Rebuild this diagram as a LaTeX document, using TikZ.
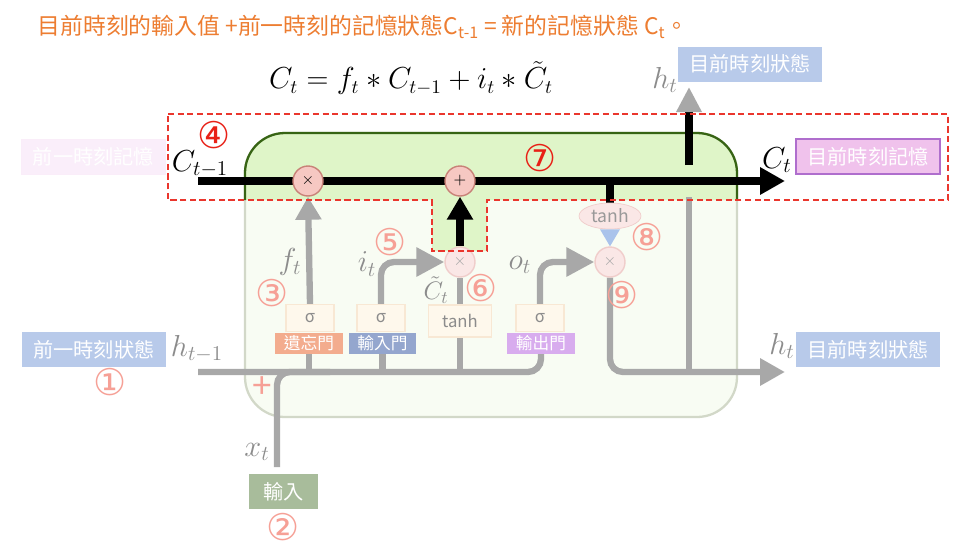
\documentclass[tikz,border=0pt]{standalone}
\usepackage{amsmath}
\usepackage{fontspec}
\newfontfamily\cjk{Noto Sans CJK TC}
\newfontfamily\dingfont{DejaVu Sans}
\usetikzlibrary{arrows.meta,shapes.geometric,positioning}

\definecolor{titleorange}{RGB}{237,125,49}
\definecolor{cellgreen}{RGB}{223,245,200}
\definecolor{celledge}{RGB}{55,100,20}
\definecolor{fadegreen}{RGB}{248,252,243}
\definecolor{fadeedge}{RGB}{210,216,200}
\definecolor{wiregray}{RGB}{168,168,168}
\definecolor{oppink}{RGB}{246,200,194}
\definecolor{opedge}{RGB}{200,130,120}
\definecolor{fadepink}{RGB}{250,231,230}
\definecolor{fadeedgepink}{RGB}{240,205,203}
\definecolor{markred}{RGB}{232,32,22}
\definecolor{fadered}{RGB}{246,160,150}
\definecolor{stateblue}{RGB}{184,202,234}
\definecolor{memviolet}{RGB}{240,194,236}
\definecolor{memedge}{RGB}{175,110,205}
\definecolor{ghostviolet}{RGB}{250,238,250}
\definecolor{inputgreen}{RGB}{168,188,155}
\definecolor{forgetorange}{RGB}{243,172,142}
\definecolor{ingateblue}{RGB}{148,166,206}
\definecolor{outviolet}{RGB}{216,172,238}
\definecolor{gatefill}{RGB}{254,248,236}
\definecolor{gateedge}{RGB}{248,232,212}
\definecolor{tipblue}{RGB}{170,195,235}

\pgfdeclarelayer{cellbg}
\pgfdeclarelayer{wires}
\pgfsetlayers{cellbg,wires,main}

\begin{document}
\begin{tikzpicture}[x=0.02cm,y=-0.02cm,
  box/.style={font=\cjk\fontsize{11.5}{12}\selectfont,text=white,inner sep=0pt,minimum width=2.88cm,minimum height=0.7cm},
  gatelbl/.style={font=\cjk\fontsize{9.5}{10}\selectfont,text=white,inner sep=0pt,minimum width=1.36cm,minimum height=0.42cm},
  gatebox/.style={draw=gateedge,fill=gatefill,line width=0.8pt,text=black!45,font=\cjk\fontsize{9.5}{10}\selectfont,inner sep=0pt,minimum width=0.96cm,minimum height=0.54cm},
  op/.style={circle,draw=opedge,fill=oppink,line width=0.8pt,minimum size=0.6cm,inner sep=0pt,font=\small},
  fadeop/.style={op,draw=fadeedgepink,fill=fadepink,text=black!35},
  numtag/.style={font=\dingfont\fontsize{21}{21}\selectfont,text=markred,inner sep=0pt},
  fadetag/.style={numtag,text=fadered},
  sym/.style={font=\LARGE,text=black!45,inner sep=0pt},
  cline/.style={line width=4pt,draw=black},
  wire/.style={line width=3.6pt,draw=wiregray},
  bigtip/.style={-{Triangle[length=0.5cm,width=0.52cm]}},
  sidetip/.style={-{Triangle[length=0.56cm,width=0.56cm]}},
  uptip/.style={-{Triangle[length=0.46cm,width=0.5cm]}}]

\begin{pgfonlayer}{cellbg}
\fill[white] (0,0) rectangle (971,549);
\end{pgfonlayer}
\useasboundingbox (0,0) rectangle (971,549);

% title and update rule
\node[font=\cjk\fontsize{13}{14}\selectfont,text=titleorange] (title) at (363,27)
  {目前時刻的輸入值 +前一時刻的記憶狀態C\textsubscript{t-1} = 新的記憶狀態 C\textsubscript{t}。};
\node[font=\fontsize{15.9}{19}\selectfont] (rule) at (411,78) {$C_t = f_t * C_{t-1} + i_t * \tilde{C}_t$};

% cell body, top part highlighted
\begin{pgfonlayer}{cellbg}
\draw[line width=1.3pt,draw=fadeedge,fill=fadegreen,rounded corners=0.8cm] (245,133) rectangle (737,417);
\begin{scope}
\clip (168,114) -- (948,114) -- (948,200) -- (487,200) -- (487,251) -- (432,251) -- (432,200) -- (168,200) -- cycle;
\draw[line width=1.3pt,draw=celledge,fill=cellgreen,rounded corners=0.8cm] (245,133) rectangle (737,417);
\end{scope}
\end{pgfonlayer}

% operators
\node[op] (fmul) at (308,181) {$\times$};
\node[op] (cadd) at (460,181) {$+$};
\node[fadeop] (imul) at (460,262) {$\times$};
\node[fadeop] (omul) at (610,262) {$\times$};
\node[ellipse,draw=fadeedgepink,fill=fadepink,text=black!40,minimum width=1.24cm,minimum height=0.52cm,inner sep=0pt,font=\cjk\fontsize{10}{10}\selectfont] (ctanh) at (610,216) {tanh};
\fill[tipblue] ([xshift=-0.2cm]ctanh.south) -- ([xshift=0.2cm]ctanh.south) -- (omul.north) -- cycle;

% gates
\node[gatebox] (fsig) at (310,318) {σ};
\node[gatebox] (isig) at (381,318) {σ};
\node[gatebox,minimum width=1.26cm,minimum height=0.64cm] (gtanh) at (460,321) {tanh};
\node[gatebox] (osig) at (540,318) {σ};
\node[gatelbl,fill=forgetorange] (flbl) at (309,343) {遺忘門};
\node[gatelbl,fill=ingateblue] (ilbl) at (382.5,343) {輸入門};
\node[gatelbl,fill=outviolet] (olbl) at (541,343) {輸出門};

% boxes
\node[box,fill=ghostviolet,draw=memviolet!30] (prevmem) at (93.5,157) {前一時刻記憶};
\node[box,fill=memviolet,draw=memedge,line width=0.8pt] (curmem) at (868,156.5) {目前時刻記憶};
\node[box,fill=stateblue] (topstate) at (750,64) {目前時刻狀態};
\node[box,fill=stateblue] (prevstate) at (94,349.5) {前一時刻狀態};
\node[box,fill=stateblue] (curstate) at (868,349.5) {目前時刻狀態};
\node[box,fill=inputgreen,minimum width=1.38cm] (xbox) at (283.5,491.5) {輸入};

% symbols
\node[font=\LARGE] (cprev) at (200,164) {$C_{t-1}$};
\node[font=\LARGE] (cnow) at (777,160) {$C_t$};
\node[sym] (hprev) at (197,349) {$h_{t-1}$};
\node[sym] (hnow) at (782,346) {$h_t$};
\node[sym] (htop) at (665,80) {$h_t$};
\node[sym] (xlab) at (257,452) {$x_t$};
\node[sym] (flab) at (290,262) {$f_t$};
\node[sym] (ilab) at (367,264) {$i_t$};
\node[sym,font=\Large] (clab) at (436,290) {$\tilde{C}_t$};
\node[sym] (olab) at (520,265) {$o_t$};

% step numbers
\node[numtag] (tag4) at (214,135) {④};
\node[numtag] (tag7) at (540,158) {⑦};
\foreach \t/\k/\x/\y in {①/1/110/382,②/2/283/527,③/3/272/293,⑤/5/390/242,⑥/6/481/288,⑧/8/647/237,⑨/9/622/295}
  \node[fadetag] (tag\k) at (\x,\y) {\t};
\node[text=fadered,font=\cjk\fontsize{20}{20}\selectfont,inner sep=0pt] (join) at (262,388) {+};

\begin{pgfonlayer}{wires}
\coordinate (cin) at (198,181);
\coordinate (cout) at (785,181);
\coordinate (hin) at (198,372);
\coordinate (hout) at (785,372);
\coordinate (xin) at (277,467);
\coordinate (xjoin) at (330,372);
\coordinate (hsplit) at (689,165);
\coordinate (htip) at (689,87);
\coordinate (hdown) at (689,197);

% memory line
\draw[cline,bigtip] (cin) -- (cout);
\draw[cline,uptip] (imul.north) -- (cadd.south);
\draw[cline] (ctanh |- cin) -- (ctanh.north);
\draw[cline,-{Triangle[length=0.5cm,width=0.48cm,color=wiregray]}] (hsplit) -- (htip);

% hidden state and input
\draw[wire,rounded corners=0.26cm] (hin) -| (olbl.south);
\draw[wire,rounded corners=0.26cm] (xin) |- (xjoin);
\draw[wire] (flbl.south) -- (flbl |- hin);
\draw[wire] (ilbl.south) -- (ilbl |- hin);
\draw[wire] (gtanh.south) -- (gtanh |- hin);
\draw[wire,uptip] (fsig.north) -- (fmul.south);
\draw[wire,sidetip,rounded corners=0.26cm] (isig.north) |- (imul.west);
\draw[wire] (gtanh.north) -- (imul.south);
\draw[wire,sidetip,rounded corners=0.26cm] (osig.north) |- (omul.west);
\draw[wire,bigtip,rounded corners=0.26cm] (omul.south) |- (hout);
\draw[wire] (hdown) -- (hdown |- hout);
\end{pgfonlayer}

% focus region
\draw[draw=markred!90,line width=1pt,dash pattern=on 3.5pt off 2pt]
  (168,114) -- (948,114) -- (948,200) -- (487,200) -- (487,251) -- (432,251) -- (432,200) -- (168,200) -- cycle;
\end{tikzpicture}
\end{document}
